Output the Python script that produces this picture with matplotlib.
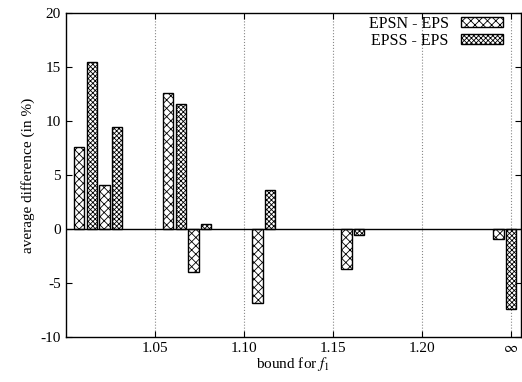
import numpy as np
import matplotlib
matplotlib.use('Agg')
import matplotlib.pyplot as plt

plt.rcParams['font.family'] = ['Liberation Serif', 'DejaVu Serif']
plt.rcParams['mathtext.fontset'] = 'stix'
plt.rcParams['axes.unicode_minus'] = False
plt.rcParams['hatch.linewidth'] = 0.6

# bar slots: 7 slots per 0.05 interval of the bound
interval_start = [1.00, 1.00, 1.05, 1.05, 1.10, 1.15, 1.20]
epsn_slot = [0, 2, 0, 2, 0, 0, 5]
epsn_vals = [7.6, 4.1, 12.6, -4.0, -6.8, -3.7, -0.9]
epss_slot = [1, 3, 1, 3, 1, 1, 6]
epss_vals = [15.4, 9.4, 11.6, 0.5, 3.6, -0.5, -7.4]

tick_pos = [1.05, 1.10, 1.15, 1.20, 1.25]
tick_labels = ['1.05', '1.10', '1.15', '1.20', r'$\infty$']

step = 0.05 / 7.06
width = 0.0058
offset = 0.0047

fig = plt.figure(figsize=(5.22, 3.82), dpi=100)
ax = fig.add_axes([65.7 / 522, 44.7 / 382, (521 - 65.7) / 522, (337.3 - 12.7) / 382])

xn = np.array(interval_start) + offset + np.array(epsn_slot) * step
xs = np.array(interval_start) + offset + np.array(epss_slot) * step
ax.bar(xn, epsn_vals, width=width, align='edge', facecolor='white',
       edgecolor='black', hatch='xxxx', linewidth=1.0, label='EPSN - EPS')
ax.bar(xs, epss_vals, width=width, align='edge', facecolor='white',
       edgecolor='black', hatch='xxxxxxx', linewidth=1.0, label='EPSS - EPS')

ax.axhline(0, color='black', linewidth=1.0, zorder=3)
for t in tick_pos:
    ax.axvline(t, color='#888888', linestyle=':', linewidth=0.8, zorder=0)

ax.set_xlim(1.0, 1.25 + 10 / 89 * 0.05)
ax.set_ylim(-10, 20)
ax.set_xticks(tick_pos)
ax.set_xticklabels(tick_labels)
ax.set_yticks(range(-10, 21, 5))
ax.tick_params(direction='in', top=True, right=True, labelsize=11, length=4)
for s in ax.spines.values():
    s.set_linewidth(1.0)

ax.set_xlabel(r'bound for $f_1$', fontsize=11, labelpad=0)
ax.set_ylabel('average difference (in %)', fontsize=11, labelpad=4)

ax.legend(loc='upper right', frameon=False, markerfirst=False, fontsize=11.5,
          handlelength=2.6, handleheight=0.55, labelspacing=0.05,
          borderaxespad=0.3, bbox_to_anchor=(0.985, 1.025))

fig.savefig('out.png', dpi=100)
